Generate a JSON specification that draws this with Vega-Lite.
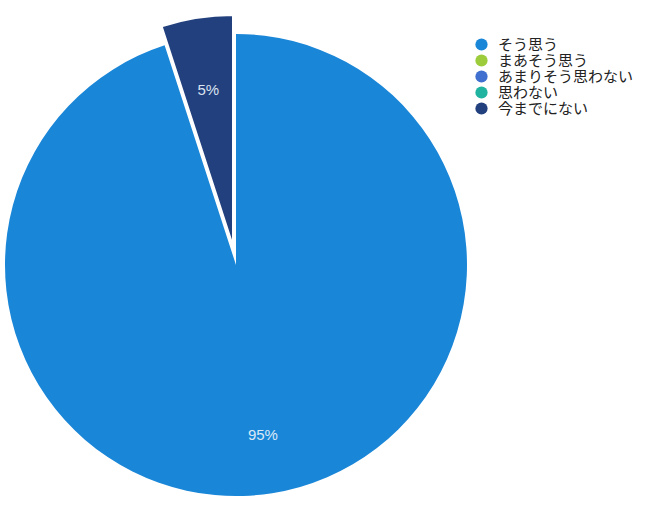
{
  "$schema": "https://vega.github.io/schema/vega-lite/v6.json",
  "autosize": {"type": "none"},
  "padding": {"left": 0, "top": 0, "right": 177, "bottom": 0},
  "width": 472,
  "height": 530,
  "background": "white",
  "data": {
    "values": [
      {"answer": "そう思う", "value": 95, "order": 1, "pct": "95%"},
      {"answer": "今までにない", "value": 5, "order": 2, "pct": "5%"}
    ]
  },
  "encoding": {
    "theta": {"field": "value", "type": "quantitative", "stack": true},
    "order": {"field": "order", "type": "quantitative"},
    "color": {
      "field": "answer",
      "type": "nominal",
      "scale": {
        "domain": ["そう思う", "まあそう思う", "あまりそう思わない", "思わない", "今までにない"],
        "range": ["#1a86d8", "#9ccc3c", "#3f6fcf", "#1fb3a0", "#23407e"]
      },
      "legend": {
        "title": null,
        "orient": "none",
        "legendX": 474,
        "legendY": 37,
        "symbolType": "circle",
        "symbolSize": 150,
        "symbolStrokeWidth": 0,
        "labelFont": "Noto Sans CJK JP",
        "labelFontSize": 15,
        "labelColor": "#222222",
        "rowPadding": 0,
        "labelOffset": 9,
        "labelLimit": 300
      }
    }
  },
  "layer": [
    {
      "mark": {"type": "arc", "outerRadius": 231},
      "encoding": {
        "opacity": {"condition": {"test": "datum.answer === 'そう思う'", "value": 1}, "value": 0}
      }
    },
    {
      "mark": {"type": "arc", "outerRadius": 231, "xOffset": -3, "yOffset": -19, "stroke": "white", "strokeWidth": 2},
      "encoding": {
        "opacity": {"condition": {"test": "datum.answer === '今までにない'", "value": 1}, "value": 0}
      }
    },
    {
      "mark": {"type": "text", "radius": 172, "font": "Liberation Sans", "fontSize": 15},
      "encoding": {
        "text": {"field": "pct", "type": "nominal"},
        "color": {"value": "#dbe9f6"},
        "opacity": {"condition": {"test": "datum.answer === 'そう思う'", "value": 1}, "value": 0}
      }
    },
    {
      "mark": {"type": "text", "radius": 158, "xOffset": -3, "yOffset": -19, "font": "Liberation Sans", "fontSize": 15},
      "encoding": {
        "text": {"field": "pct", "type": "nominal"},
        "color": {"value": "#dbe3f0"},
        "opacity": {"condition": {"test": "datum.answer === '今までにない'", "value": 1}, "value": 0}
      }
    }
  ],
  "config": {"view": {"stroke": null}}
}
